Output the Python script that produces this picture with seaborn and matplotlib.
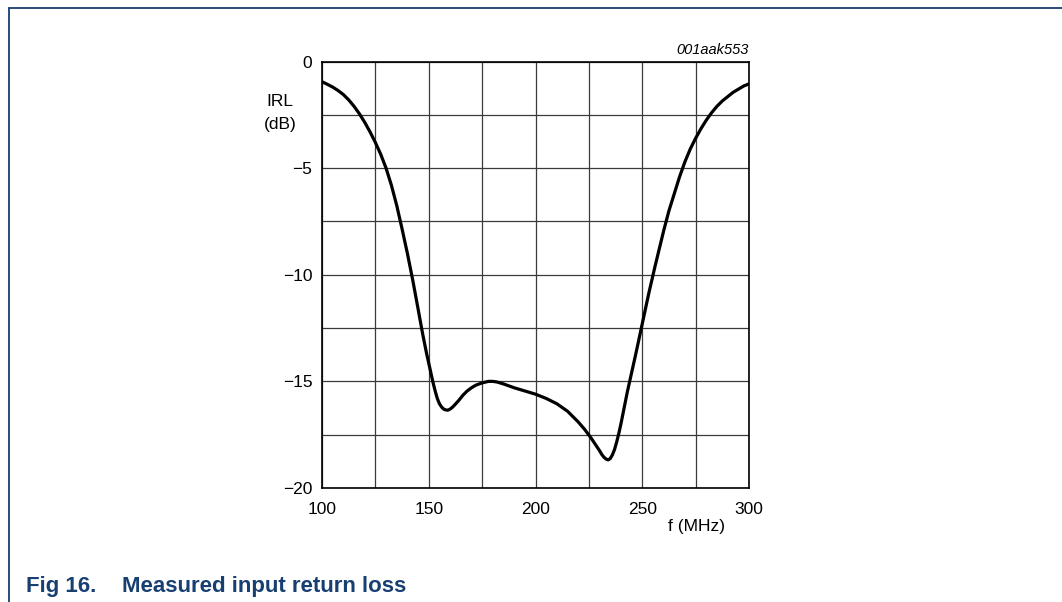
import seaborn as sns
import pandas as pd
import numpy as np
import matplotlib.pyplot as plt
from matplotlib.lines import Line2D

# values
freq_mhz = [100, 102.5, 105, 107.5, 110, 112.5, 115, 117.5, 120, 122.5, 125, 127.5, 130,
            132.5, 135, 137.5, 140, 142.5, 145, 147, 149, 150, 151, 152, 153, 154, 155,
            156, 157, 158, 159, 160, 161, 162, 164, 166, 168, 170, 172, 175, 178, 180,
            182, 185, 190, 195, 200, 205, 210, 215, 220, 223, 226, 228, 230, 231, 232,
            233, 234, 235, 236, 237, 238, 239, 240, 241, 242, 243, 244, 245, 247, 250,
            253, 256, 260, 262.5, 265, 267.5, 270, 272.5, 275, 277.5, 280, 282.5, 285,
            287.5, 290, 292.5, 295, 297.5, 300]
irl_db = [-0.95, -1.07, -1.2, -1.36, -1.55, -1.8, -2.1, -2.45, -2.85, -3.3, -3.8, -4.35, -5.0,
          -5.8, -6.75, -7.85, -9.0, -10.25, -11.6, -12.7, -13.7, -14.15, -14.6, -15.05, -15.45, -15.8, -16.05,
          -16.2, -16.3, -16.34, -16.35, -16.3, -16.22, -16.12, -15.9, -15.65, -15.45, -15.3, -15.18, -15.07, -15.0, -15.0,
          -15.03, -15.12, -15.3, -15.45, -15.6, -15.8, -16.05, -16.4, -16.9, -17.25, -17.65, -17.95, -18.25, -18.42, -18.55,
          -18.64, -18.68, -18.62, -18.45, -18.2, -17.85, -17.45, -17.0, -16.5, -16.0, -15.5, -15.05, -14.6, -13.7, -12.3,
          -10.9, -9.6, -7.95, -7.0, -6.2, -5.4, -4.7, -4.1, -3.6, -3.15, -2.75, -2.4, -2.1,
          -1.85, -1.65, -1.45, -1.3, -1.15, -1.05]

x_ticks = [100, 125, 150, 175, 200, 225, 250, 275, 300]
x_labels = ['100', '', '150', '', '200', '', '250', '', '300']
y_ticks = [0, -2.5, -5, -7.5, -10, -12.5, -15, -17.5, -20]
y_labels = ['0', '', '\u22125', '', '\u221210', '', '\u221215', '', '\u221220']

df = pd.DataFrame({'f': freq_mhz, 'irl': irl_db})

sns.set_theme(style='white')
plt.rcParams['font.family'] = ['Liberation Sans', 'DejaVu Sans']
plt.rcParams['text.color'] = 'black'

W, H = 1062, 602
fig = plt.figure(figsize=(W / 100, H / 100), dpi=100)
ax = fig.add_axes([322 / W, (H - 488) / H, 427 / W, 426.5 / H])

sns.lineplot(data=df, x='f', y='irl', ax=ax, color='black', lw=2.3, estimator=None)

ax.set_xlim(100, 300)
ax.set_ylim(-20, 0)
ax.set_xticks(x_ticks)
ax.set_xticklabels(x_labels)
ax.set_yticks(y_ticks)
ax.set_yticklabels(y_labels)
ax.tick_params(axis='both', length=0, labelsize=12.5, colors='black')
ax.tick_params(axis='x', pad=10)
ax.tick_params(axis='y', pad=7)
ax.grid(True, color='#3a3a3a', lw=0.9)
ax.set_xlabel('')
ax.set_ylabel('')
for s in ax.spines.values():
    s.set_color('black')
    s.set_linewidth(1.2)

fig.text(280 / W, 1 - 102 / H, 'IRL', ha='center', va='center', fontsize=12.5)
fig.text(280 / W, 1 - 125 / H, '(dB)', ha='center', va='center', fontsize=12.5)
fig.text(749 / W, 1 - 50 / H, '001aak553', ha='right', va='center', fontsize=10.5, style='italic')
fig.text(697 / W, 1 - 527 / H, 'f (MHz)', ha='center', va='center', fontsize=12.5)

# blue page frame and caption
blue = '#173f72'
fig.add_artist(Line2D([9 / W, 1], [1 - 7.5 / H, 1 - 7.5 / H], color=blue, lw=1.3))
fig.add_artist(Line2D([9 / W, 9 / W], [0, 1 - 7.5 / H], color=blue, lw=1.3))
fig.text(26 / W, 1 - 592 / H, 'Fig 16.', ha='left', va='baseline', fontsize=16,
         fontweight='bold', color=blue)
fig.text(122 / W, 1 - 592 / H, 'Measured input return loss', ha='left', va='baseline',
         fontsize=16, fontweight='bold', color=blue)

fig.savefig('out.png', dpi=100)
